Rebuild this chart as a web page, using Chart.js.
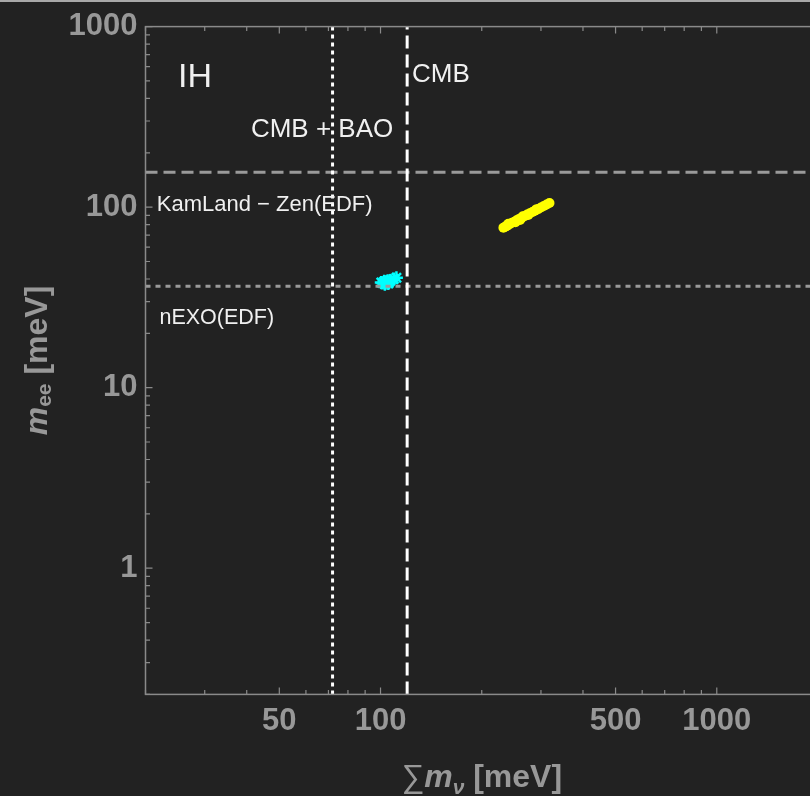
<!DOCTYPE html>
<html>
<head>
<meta charset="utf-8">
<script src="https://cdn.jsdelivr.net/npm/chart.js@4.4.1/dist/chart.umd.min.js"></script>
<style>
  html, body { margin: 0; padding: 0; background: #222222; overflow: hidden; }
  body::before { content: ""; position: fixed; top: 0; left: 0; right: 0; height: 2px; background: #a8a8a8; z-index: 2; }
  #wrap { position: relative; width: 830px; height: 796px; }
</style>
</head>
<body>
<div id="wrap"><canvas id="chart" width="830" height="796"></canvas></div>
<script>
// axis ranges (meV)
const xRange = [20, 2000];
const yRange = [0.2, 1000];
const xTickLabels = [50, 100, 500, 1000];
const yTickLabels = [1, 10, 100, 1000];

// yellow band (sum m_nu, m_ee)
const ihX = [232, 235, 238, 240, 242, 246, 250, 252, 254, 258, 260, 263, 265, 268, 273, 275, 278, 283, 288, 290, 294, 300, 306, 312, 318];
const ihY = [77, 78, 79, 80.8, 80.5, 82, 83, 82.5, 84.5, 86, 85, 87.5, 89, 89, 91, 90.5, 92.5, 94, 95.5, 97, 97.5, 99.5, 101.5, 103.5, 105.5];

// cyan crosses
const cyanX = [100.5, 101.5, 102.5, 103, 103.5, 104, 105, 105.5, 106, 107, 109.5, 111.5];
const cyanY = [38.3, 38.0, 38.8, 37.4, 37.9, 38.6, 39.1, 37.8, 38.3, 39.2, 40.0, 40.6];

// limits
const cmbBaoLimit = 72;
const cmbLimit = 120;
const kamlandLimit = 156;
const nexoLimit = 36.5;

// in-plot labels, placed in data coordinates
const plotLabels = [
  { text: "IH", x: 25, y: 520, size: 34, align: "left" },
  { text: "CMB", x: 124, y: 540, size: 26, align: "left" },
  { text: "CMB + BAO", x: 67, y: 267, size: 26, align: "center" },
  { text: "KamLand \u2212 Zen(EDF)", x: 21.6, y: 103, size: 22, align: "left" },
  { text: "nEXO(EDF)", x: 22, y: 24.3, size: 21.5, align: "left" },
];

const FONT = "'Liberation Sans', Arial, sans-serif";
const AXIS_GRAY = "#8a8a8a";
const LABEL_GRAY = "#989898";

function logTicks(lo, hi) {
  const out = [];
  for (let e = Math.floor(Math.log10(lo)); e <= Math.ceil(Math.log10(hi)); e++) {
    for (let m = 1; m <= 9; m++) {
      const v = Number((m * Math.pow(10, e)).toPrecision(6));
      if (v >= lo - 1e-9 && v <= hi + 1e-9) out.push(v);
    }
  }
  return out;
}

function zip(xs, ys) {
  return xs.map((x, i) => ({ x, y: ys[i] }));
}

function vLine(x) {
  return [{ x, y: yRange[0] }, { x, y: yRange[1] }];
}

function hLine(y) {
  return [{ x: xRange[0], y }, { x: xRange[1], y }];
}

const framePlugin = {
  id: "frame",
  afterDatasetsDraw(chart) {
    const { ctx, chartArea: a, scales } = chart;
    ctx.save();

    // labels inside the plot
    ctx.fillStyle = "#f0f0f0";
    ctx.textBaseline = "middle";
    for (const l of plotLabels) {
      ctx.font = `${l.size}px ${FONT}`;
      ctx.textAlign = l.align;
      ctx.fillText(l.text, scales.x.getPixelForValue(l.x), scales.y.getPixelForValue(l.y));
    }

    // frame
    ctx.strokeStyle = AXIS_GRAY;
    ctx.lineWidth = 1.5;
    ctx.strokeRect(a.left, a.top, a.right - a.left, a.bottom - a.top);

    // inward ticks
    ctx.lineWidth = 1.2;
    ctx.beginPath();
    for (const t of scales.x.ticks) {
      const px = scales.x.getPixelForValue(t.value);
      const len = xTickLabels.includes(t.value) ? 7 : 4.5;
      ctx.moveTo(px, a.bottom);
      ctx.lineTo(px, a.bottom - len);
      ctx.moveTo(px, a.top);
      ctx.lineTo(px, a.top + len);
    }
    for (const t of scales.y.ticks) {
      const py = scales.y.getPixelForValue(t.value);
      const len = yTickLabels.includes(t.value) ? 7 : 4.5;
      ctx.moveTo(a.left, py);
      ctx.lineTo(a.left + len, py);
      ctx.moveTo(a.right, py);
      ctx.lineTo(a.right - len, py);
    }
    ctx.stroke();
    ctx.restore();
  },
  afterDraw(chart) {
    const { ctx, chartArea: a } = chart;
    ctx.save();
    ctx.fillStyle = LABEL_GRAY;
    ctx.textBaseline = "alphabetic";
    ctx.textAlign = "left";

    // x title: ∑m_ν [meV]
    const xParts = [
      { t: "\u2211", f: `32px ${FONT}`, dy: 0 },
      { t: "m", f: `italic bold 32px ${FONT}`, dy: 0 },
      { t: "\u03bd", f: `italic bold 21px ${FONT}`, dy: 7 },
      { t: " [meV]", f: `bold 32px ${FONT}`, dy: 0 },
    ];
    drawParts(ctx, xParts, (a.left + a.right) / 2, 787, 0);

    // y title: m_ee [meV]
    const yParts = [
      { t: "m", f: `italic bold 32px ${FONT}`, dy: 0 },
      { t: "ee", f: `bold 21px ${FONT}`, dy: 4 },
      { t: " [meV]", f: `bold 32px ${FONT}`, dy: 0 },
    ];
    drawParts(ctx, yParts, 47, (a.top + a.bottom) / 2, -Math.PI / 2);
    ctx.restore();
  },
};

function drawParts(ctx, parts, cx, cy, rot) {
  let total = 0;
  for (const p of parts) {
    ctx.font = p.f;
    p.w = ctx.measureText(p.t).width;
    total += p.w;
  }
  ctx.save();
  ctx.translate(cx, cy);
  ctx.rotate(rot);
  let x = -total / 2;
  for (const p of parts) {
    ctx.font = p.f;
    ctx.fillText(p.t, x, p.dy);
    x += p.w;
  }
  ctx.restore();
}

function axisOptions(range, labels, isX) {
  return {
    type: "logarithmic",
    position: isX ? "bottom" : "left",
    min: range[0],
    max: range[1],
    grid: { display: false, drawTicks: false },
    border: { display: false },
    afterBuildTicks: (scale) => {
      scale.ticks = logTicks(range[0], range[1]).map((v) => ({ value: v }));
    },
    afterFit: (scale) => {
      if (isX) scale.height = 101.6;
      else scale.width = 145.5;
    },
    ticks: {
      autoSkip: false,
      maxRotation: 0,
      padding: isX ? 8.5 : 8,
      color: LABEL_GRAY,
      font: { family: FONT, size: 31, weight: "bold" },
      callback: (v) => (labels.includes(Number(v)) ? String(v) : ""),
    },
  };
}

new Chart(document.getElementById("chart"), {
  type: "scatter",
  data: {
    datasets: [
      {
        label: "CMB+BAO",
        type: "line",
        data: vLine(cmbBaoLimit),
        borderColor: "#ffffff",
        borderWidth: 3,
        borderDash: [4, 4],
        pointRadius: 0,
      },
      {
        label: "CMB",
        type: "line",
        data: vLine(cmbLimit),
        borderColor: "#ffffff",
        borderWidth: 3,
        borderDash: [13, 6],
        pointRadius: 0,
      },
      {
        label: "KamLand-Zen",
        type: "line",
        data: hLine(kamlandLimit),
        borderColor: "#9a9a9a",
        borderWidth: 3,
        borderDash: [12, 6],
        pointRadius: 0,
      },
      {
        label: "nEXO",
        type: "line",
        data: hLine(nexoLimit),
        borderColor: "#9a9a9a",
        borderWidth: 3,
        borderDash: [5, 5],
        pointRadius: 0,
      },
      {
        label: "cyan",
        data: zip(cyanX, cyanY),
        pointStyle: "star",
        pointRadius: 6.5,
        borderColor: "#00ffff",
        backgroundColor: "#00ffff",
        borderWidth: 2.5,
      },
      {
        label: "IH",
        data: zip(ihX, ihY),
        pointStyle: "circle",
        pointRadius: 5,
        borderWidth: 0,
        backgroundColor: "#ffff00",
      },
    ],
  },
  options: {
    responsive: false,
    animation: false,
    devicePixelRatio: 1,
    layout: { padding: { top: 23, right: 12, left: 0, bottom: 0 } },
    plugins: { legend: { display: false }, tooltip: { enabled: false } },
    scales: {
      x: axisOptions(xRange, xTickLabels, true),
      y: axisOptions(yRange, yTickLabels, false),
    },
  },
  plugins: [framePlugin],
});
</script>
</body>
</html>
